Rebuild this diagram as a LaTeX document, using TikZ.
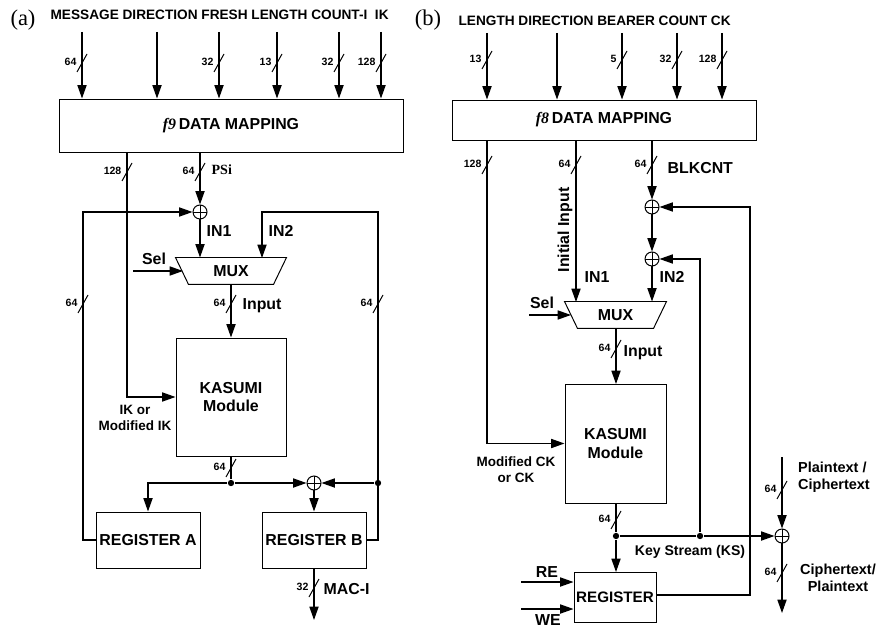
\documentclass[tikz,border=0pt]{standalone}
\usepackage{fontspec}
\setmainfont{Liberation Serif}
\setsansfont{Liberation Sans}
\usetikzlibrary{arrows.meta,calc}
\newcommand{\px}{0.025cm}
\tikzset{
    every picture/.style={line width=0.9pt, >={Triangle[length=9.5pt,width=6.5pt]}},
    % boxes and labels
    blk/.style={draw, line width=0.7pt, inner sep=0pt, align=center, font=\sffamily\bfseries\fontsize{11.3}{13}\selectfont},
    lbl/.style={inner sep=0pt, font=\sffamily\bfseries\fontsize{11.3}{13}\selectfont},
    note/.style={inner sep=0pt, align=center, font=\sffamily\bfseries\fontsize{9.6}{11.5}\selectfont},
    ttl/.style={inner sep=0pt, font=\sffamily\bfseries\fontsize{9.7}{11}\selectfont},
    buslbl/.style={inner sep=0pt, anchor=east, font=\sffamily\bfseries\fontsize{7.5}{8}\selectfont},
    panel/.style={inner sep=0pt, font=\fontsize{16}{18}\selectfont},
    % xor and junction dot
    xor/.style={circle, draw, line width=0.7pt, minimum size=0.35cm, inner sep=0pt,
        path picture={\draw[line width=0.7pt] (path picture bounding box.north) -- (path picture bounding box.south)
            (path picture bounding box.west) -- (path picture bounding box.east);}},
    jdot/.style={circle, fill, minimum size=4.5pt, inner sep=0pt}
}
% bus width slash with its label, #1 = x,y
\newcommand{\bus}[2]{%
    \draw[line width=0.7pt] ([shift={(-5,9)}]#1) -- ([shift={(5,-9)}]#1);
    \node[buslbl] at ([shift={(-5,-1)}]#1) {#2};}

\begin{document}
\begin{tikzpicture}[x=\px, y=-\px]
    \useasboundingbox (0,0) rectangle (881,629);
    % ---------------- (a) f9 ----------------
    \node[panel] (pa) at (23,20) {(a)};
    \node[ttl, anchor=west] (ttla) at (50,15) {MESSAGE DIRECTION FRESH LENGTH COUNT-I\ \ IK};
    \node[blk, minimum width=344*\px, minimum height=53*\px] (f9) at (231,125.5) {\textit{\rmfamily f9}\,DATA MAPPING};
    \foreach \x [count=\i] in {82, 157, 219, 277, 339, 381} {
        \coordinate (ina\i) at (\x,32);
        \draw[->] (ina\i) -- (ina\i |- f9.north);
    }
    \foreach \x/\w in {82/64, 219/32, 277/13, 339/32, 381/128} {\bus{\x,63}{\w}}
    \node[xor] (xa1) at (200,212) {};
    \node[blk, draw=none, minimum width=110*\px, minimum height=26*\px] (muxa) at (231,271) {MUX};
    \draw[line width=0.7pt] (muxa.north west) -- (muxa.north east) -- ([shift={(-13,0)}]muxa.south east)
        -- ([shift={(13,0)}]muxa.south west) -- cycle;
    \node[blk, minimum width=110*\px, minimum height=118*\px] (kasa) at (231,397) {KASUMI\\Module};
    \node[blk, minimum width=104*\px, minimum height=56*\px] (rega) at (148,540) {REGISTER A};
    \node[blk, minimum width=104*\px, minimum height=56*\px] (regb) at (314,540) {REGISTER B};
    \node[xor] (xa2) at (314,483) {};
    \node[jdot] (da1) at (231,483) {};
    \node[jdot] (da2) at (378,483) {};
    \coordinate (sela) at (133,271);
    \coordinate (maca) at (314,620);
    % paths of (a)
    \draw[->] (f9.south -| xa1) -- (xa1);
    \draw[->] (f9.south -| 127,0) |- (kasa.west);
    \draw[->] (xa1) -- (xa1 |- muxa.north);
    \draw[->] (sela) -- (183,271);
    \draw[->] (muxa.south) -- (kasa.north);
    \draw (kasa.south) -- (da1);
    \draw[->] (da1) -| (rega.north);
    \draw[->] (da1) -- (xa2);
    \draw[->] (da2) -- (xa2);
    \draw[->] (xa2) -- (regb.north);
    \draw[->] (rega.west) -- (83,540) |- (xa1);
    \draw[->] (regb.east) -- (378,540) |- (262,212) -- (262,258);
    \draw[->] (regb.south) -- (maca);
    % labels of (a)
    \bus{127,172}{128}
    \bus{200,172}{64}
    \node[anchor=west, inner sep=0pt, font=\bfseries\fontsize{10}{12}\selectfont] (psi) at (211,170) {PSi};
    \node[lbl, anchor=west] (in1a) at (206,231) {IN1};
    \node[lbl, anchor=west] (in2a) at (268,231) {IN2};
    \node[lbl] (sla) at (154,259) {Sel};
    \bus{231,304}{64}
    \node[lbl, anchor=west] (inpa) at (242,306) {Input};
    \bus{83,304}{64}
    \bus{378,304}{64}
    \node[note] (ika) at (135,418) {IK or\\Modified IK};
    \bus{231,468}{64}
    \bus{314,588}{32}
    \node[lbl, anchor=west] (maci) at (323,589) {MAC-I};
    % ---------------- (b) f8 ----------------
    \node[panel] (pb) at (428,20) {(b)};
    \node[ttl, anchor=west] (ttlb) at (458,21) {LENGTH DIRECTION BEARER COUNT CK};
    \node[blk, minimum width=304*\px, minimum height=40*\px] (f8) at (604,120) {\textit{\rmfamily f8}\,DATA MAPPING};
    \foreach \x [count=\i] in {487, 557, 622, 677, 722} {
        \coordinate (inb\i) at (\x,33);
        \draw[->] (inb\i) -- (inb\i |- f8.north);
    }
    \foreach \x/\w in {487/13, 622/5, 677/32, 722/128} {\bus{\x,60}{\w}}
    \node[xor] (xb1) at (652,207) {};
    \node[xor] (xb2) at (652,259) {};
    \node[blk, draw=none, minimum width=101*\px, minimum height=26*\px] (muxb) at (615.5,315) {MUX};
    \draw[line width=0.7pt] (muxb.north west) -- (muxb.north east) -- ([shift={(-13,0)}]muxb.south east)
        -- ([shift={(13,0)}]muxb.south west) -- cycle;
    \node[blk, minimum width=101*\px, minimum height=119*\px] (kasb) at (615.5,443.5) {KASUMI\\Module};
    \node[blk, minimum width=82*\px, minimum height=50*\px, font=\sffamily\bfseries\fontsize{10.8}{12}\selectfont] (regc) at (615,597) {REGISTER};
    \node[jdot] (db1) at (616,536) {};
    \node[jdot] (db2) at (700,536) {};
    \node[xor] (xb3) at (782,536) {};
    \coordinate (selb) at (529,315);
    \coordinate (reb) at (521,582);
    \coordinate (web) at (521,609);
    \coordinate (ptin) at (782,457);
    \coordinate (ctout) at (782,613);
    % paths of (b)
    \draw[->] (f8.south -| 487,0) |- (kasb.west);
    \draw[->] (f8.south -| 576,0) -- (576,302);
    \draw[->] (f8.south -| xb1) -- (xb1);
    \draw[->] (xb1) -- (xb2);
    \draw[->] (xb2) -- (xb2 |- muxb.north);
    \draw[->] (selb) -- (571,315);
    \draw[->] (616,328) -- (616,384);
    \draw (616,503) -- (db1);
    \draw[->] (db1) -- (616,572);
    \draw (db1) -- (db2);
    \draw[->] (db2) -- (xb3);
    \draw[->] (db2) |- (xb2);
    \draw[->] (regc.east |- 0,595) -| (750,400) |- (xb1);
    \draw[->] (reb) -- (reb -| regc.west);
    \draw[->] (web) -- (web -| regc.west);
    \draw[->] (ptin) -- (xb3);
    \draw[->] (xb3) -- (ctout);
    % labels of (b)
    \bus{487,165}{128}
    \bus{576,165}{64}
    \bus{652,165}{64}
    \node[lbl, anchor=west] (blk) at (667,168) {BLKCNT};
    \node[lbl, rotate=90] (iinp) at (565,230) {Initial Input};
    \node[lbl, anchor=west] (in1b) at (584,277) {IN1};
    \node[lbl, anchor=west] (in2b) at (659,277) {IN2};
    \node[lbl] (slb) at (542,303) {Sel};
    \bus{616,349}{64}
    \node[lbl, anchor=west] (inpb) at (623,353) {Input};
    \node[note] (ckb) at (516,470) {Modified CK\\or CK};
    \bus{616,520}{64}
    \node[note, font=\sffamily\bfseries\fontsize{10}{12}\selectfont] (ks) at (690,552) {Key Stream (KS)};
    \node[lbl] (rel) at (547,572) {RE};
    \node[lbl] (wel) at (548,620.5) {WE};
    \bus{782,490}{64}
    \node[note, align=left, font=\sffamily\bfseries\fontsize{10.3}{12}\selectfont] (pt) at (834,477) {Plaintext /\\Ciphertext};
    \bus{782,573}{64}
    \node[note, font=\sffamily\bfseries\fontsize{10.3}{12}\selectfont] (ct) at (838,578) {Ciphertext/\\Plaintext};
\end{tikzpicture}
\end{document}
